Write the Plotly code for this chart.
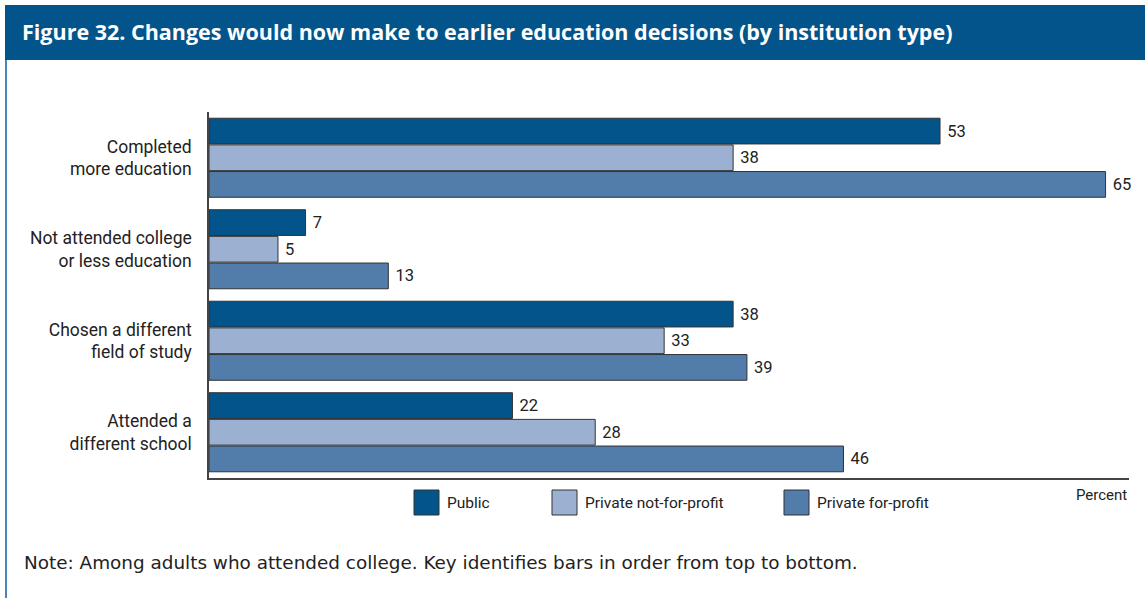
import plotly.graph_objects as go

# Survey categories (top to bottom) and the share of respondents, in percent
categories = [
    "Completed<br>more education",
    "Not attended college<br>or less education",
    "Chosen a different<br>field of study",
    "Attended a<br>different school",
]
series_names = ["Public", "Private not-for-profit", "Private for-profit"]
public = [53, 7, 38, 22]
private_nonprofit = [38, 5, 33, 28]
private_forprofit = [65, 13, 39, 46]

series_values = [public, private_nonprofit, private_forprofit]
colors = ["#03548A", "#9CB1D1", "#527CA9"]

W, H = 1145, 598
L, R, T, B = 209, 16, 112, 120
PW, PH = W - L - R, H - T - B


def px(x):
    return (x - L) / PW


def py(y):
    return (H - B - y) / PH


LABEL_FONT = "Roboto, 'Liberation Sans', sans-serif"

fig = go.Figure()
for name, vals, col in zip(series_names, series_values, colors):
    fig.add_trace(go.Bar(
        y=categories,
        x=vals,
        name=name,
        orientation="h",
        marker=dict(color=col, line=dict(color="#333333", width=1)),
        text=[str(v) for v in vals],
        texttemplate="\u00a0%{text}",
        textposition="outside",
        textfont=dict(family=LABEL_FONT, size=16.5, color="#222222"),
        constraintext="none",
        cliponaxis=False,
        showlegend=False,
    ))

shapes = []
annotations = []

# Title banner and left rule
shapes.append(dict(type="rect", xref="paper", yref="paper",
                   x0=px(5), x1=px(W + 2), y0=py(60), y1=py(5),
                   fillcolor="#03548A", line=dict(width=0), layer="below"))
shapes.append(dict(type="line", xref="paper", yref="paper",
                   x0=px(6), x1=px(6), y0=py(60), y1=py(W),
                   line=dict(color="#4A84BC", width=2)))
annotations.append(dict(
    text="Figure 32. Changes would now make to earlier education decisions (by institution type)",
    xref="paper", yref="paper", x=px(20), y=py(32),
    xanchor="left", yanchor="middle", showarrow=False,
    font=dict(family="'Open Sans', Roboto, sans-serif", size=21.5, color="white", weight="bold"),
))

# Key: one swatch per series
legend_x = [414, 552, 784]
for name, col, x0 in zip(series_names, colors, legend_x):
    shapes.append(dict(type="rect", xref="paper", yref="paper",
                       x0=px(x0), x1=px(x0 + 25), y0=py(515), y1=py(490),
                       fillcolor=col, line=dict(color="#333333", width=1)))
    annotations.append(dict(text=name, xref="paper", yref="paper",
                            x=px(x0 + 31), y=py(503), xanchor="left", yanchor="middle",
                            showarrow=False,
                            font=dict(family=LABEL_FONT, size=15.5, color="#222222")))

annotations.append(dict(text="Percent", xref="paper", yref="paper",
                        x=1.0, y=py(495), xanchor="right", yanchor="middle",
                        showarrow=False,
                        font=dict(family=LABEL_FONT, size=15, color="#222222")))

annotations.append(dict(
    text="Note: Among adults who attended college. Key identifies bars in order from top to bottom.",
    xref="paper", yref="paper", x=px(22), y=py(562),
    xanchor="left", yanchor="middle", showarrow=False,
    font=dict(family="'DejaVu Sans', Verdana, sans-serif", size=18.4, color="#222222"),
))

fig.update_layout(
    width=W, height=H,
    margin=dict(l=L, r=R, t=T, b=B, autoexpand=False),
    paper_bgcolor="white", plot_bgcolor="white",
    barmode="group", bargap=0.126, bargroupgap=0.035,
    shapes=shapes, annotations=annotations,
    xaxis=dict(range=[0, 66.7], showgrid=False, zeroline=False,
               showticklabels=False, ticks="",
               showline=True, linecolor="#444444", linewidth=1.5),
    yaxis=dict(autorange="reversed", showgrid=False, zeroline=False, ticks="",
               showline=True, linecolor="#444444", linewidth=1.5,
               ticklabelstandoff=12,
               tickfont=dict(family=LABEL_FONT, size=17.5, color="#222222")),
)

fig.write_html("out.html")
